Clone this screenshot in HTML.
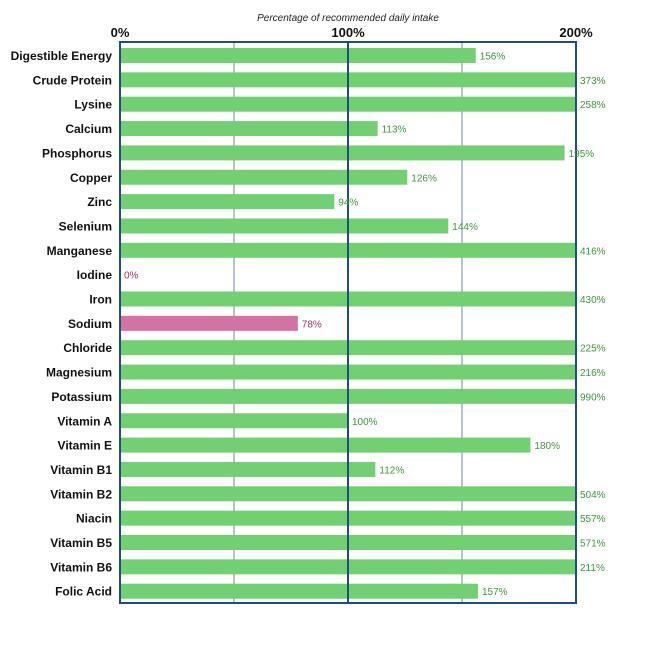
<!DOCTYPE html><html><head><style>body{margin:0;background:#fff}</style></head><body>
<svg width="658" height="659" xmlns="http://www.w3.org/2000/svg" font-family="Liberation Sans, Arial, sans-serif">
<rect width="658" height="659" fill="#fff"/>
<text x="348" y="21" font-size="10" font-style="italic" text-anchor="middle" fill="#222">Percentage of recommended daily intake</text>
<text x="120" y="37" font-size="13" font-weight="bold" text-anchor="middle" fill="#111">0%</text>
<text x="348" y="37" font-size="13" font-weight="bold" text-anchor="middle" fill="#111">100%</text>
<text x="576" y="37" font-size="13" font-weight="bold" text-anchor="middle" fill="#111">200%</text>
<line x1="234" y1="42" x2="234" y2="603" stroke="#6a8aa8" stroke-width="1"/>
<line x1="462" y1="42" x2="462" y2="603" stroke="#6a8aa8" stroke-width="1"/>
<g fill="#72d072">
<rect x="120" y="48" width="355.68" height="15"/>
<rect x="120" y="72.35" width="456" height="15"/>
<rect x="120" y="96.7" width="456" height="15"/>
<rect x="120" y="121.05" width="257.64" height="15"/>
<rect x="120" y="145.4" width="444.6" height="15"/>
<rect x="120" y="169.75" width="287.28" height="15"/>
<rect x="120" y="194.1" width="214.32" height="15"/>
<rect x="120" y="218.45" width="328.32" height="15"/>
<rect x="120" y="242.8" width="456" height="15"/>
<rect x="120" y="291.5" width="456" height="15"/>
<rect x="120" y="340.2" width="456" height="15"/>
<rect x="120" y="364.55" width="456" height="15"/>
<rect x="120" y="388.9" width="456" height="15"/>
<rect x="120" y="413.25" width="228" height="15"/>
<rect x="120" y="437.6" width="410.4" height="15"/>
<rect x="120" y="461.95" width="255.36" height="15"/>
<rect x="120" y="486.3" width="456" height="15"/>
<rect x="120" y="510.65" width="456" height="15"/>
<rect x="120" y="535" width="456" height="15"/>
<rect x="120" y="559.35" width="456" height="15"/>
<rect x="120" y="583.7" width="357.96" height="15"/>
</g>
<rect x="120" y="315.85" width="177.84" height="15" fill="#d372a4"/>
<line x1="348" y1="42" x2="348" y2="603" stroke="#1d4f78" stroke-width="2"/>
<rect x="120" y="42" width="456" height="561" fill="none" stroke="#1d4f78" stroke-width="2"/>
<g font-size="12" font-weight="bold" text-anchor="end" fill="#111">
<text x="112" y="60">Digestible Energy</text>
<text x="112" y="84.35">Crude Protein</text>
<text x="112" y="108.7">Lysine</text>
<text x="112" y="133.05">Calcium</text>
<text x="112" y="157.4">Phosphorus</text>
<text x="112" y="181.75">Copper</text>
<text x="112" y="206.1">Zinc</text>
<text x="112" y="230.45">Selenium</text>
<text x="112" y="254.8">Manganese</text>
<text x="112" y="279.15">Iodine</text>
<text x="112" y="303.5">Iron</text>
<text x="112" y="327.85">Sodium</text>
<text x="112" y="352.2">Chloride</text>
<text x="112" y="376.55">Magnesium</text>
<text x="112" y="400.9">Potassium</text>
<text x="112" y="425.25">Vitamin A</text>
<text x="112" y="449.6">Vitamin E</text>
<text x="112" y="473.95">Vitamin B1</text>
<text x="112" y="498.3">Vitamin B2</text>
<text x="112" y="522.65">Niacin</text>
<text x="112" y="547">Vitamin B5</text>
<text x="112" y="571.35">Vitamin B6</text>
<text x="112" y="595.7">Folic Acid</text>
</g>
<g font-size="10" fill="#3a9a3a">
<text x="479.7" y="59.5">156%</text>
<text x="580" y="83.85">373%</text>
<text x="580" y="108.2">258%</text>
<text x="381.6" y="132.55">113%</text>
<text x="568.6" y="156.9">195%</text>
<text x="411.3" y="181.25">126%</text>
<text x="338.3" y="205.6">94%</text>
<text x="452.3" y="229.95">144%</text>
<text x="580" y="254.3">416%</text>
<text x="580" y="303">430%</text>
<text x="580" y="351.7">225%</text>
<text x="580" y="376.05">216%</text>
<text x="580" y="400.4">990%</text>
<text x="352" y="424.75">100%</text>
<text x="534.4" y="449.1">180%</text>
<text x="379.4" y="473.45">112%</text>
<text x="580" y="497.8">504%</text>
<text x="580" y="522.15">557%</text>
<text x="580" y="546.5">571%</text>
<text x="580" y="570.85">211%</text>
<text x="482" y="595.2">157%</text>
</g>
<g font-size="10" fill="#a0306a">
<text x="124" y="278.65">0%</text>
<text x="301.8" y="327.35">78%</text>
</g>
</svg></body></html>
